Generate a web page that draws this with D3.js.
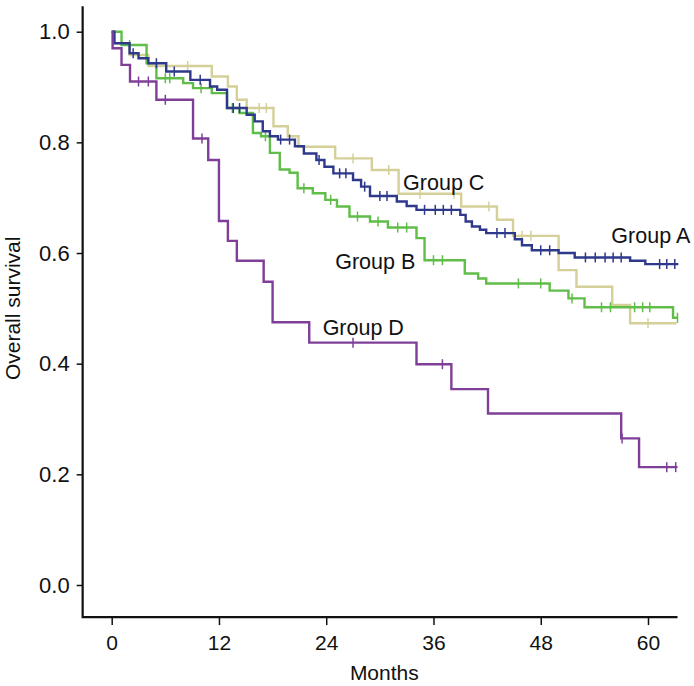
<!DOCTYPE html>
<html lang="en">
  <head>
    <meta charset="utf-8">
    <title>overall survival</title>
    <script type="text/javascript" src="https://d3js.org/d3.v7.min.js"></script>
    <style>
      body { margin: 0; background: #fff; }
      text { font-family: "Liberation Sans", Arial, sans-serif; fill: #111; }
      .xTicks .tick text { font-size: 21px; }
      .yTicks .tick text { font-size: 22px; }
      .axisTitle { font-size: 21px; }
      .groupLabel { font-size: 21.5px; }
    </style>
  </head>
  <body>

    <svg id="chart"></svg>

    <script type="text/javascript">

    // DATA (step times in months, survival after each step)

    const groups = ['Group A', 'Group B', 'Group C', 'Group D'];

    const aTimes = [0, 0.3, 2.0, 3.0, 4.1, 6.1, 8.8, 11.0, 11.8, 12.9, 15.1, 16.0, 16.9, 17.7, 18.6, 20.5, 21.5, 22.9, 23.8, 24.8, 27.0, 27.9, 28.9, 31.9, 33.0, 34.1, 39.0, 39.6, 40.3, 41.2, 41.9, 45.1, 45.9, 47.0, 50.0, 51.8, 58.0, 59.7, 63.4];
    const aSurv = [1, 0.979, 0.961, 0.952, 0.943, 0.928, 0.913, 0.901, 0.895, 0.862, 0.850, 0.838, 0.820, 0.811, 0.805, 0.793, 0.780, 0.768, 0.756, 0.744, 0.732, 0.720, 0.703, 0.693, 0.685, 0.678, 0.669, 0.657, 0.648, 0.642, 0.636, 0.625, 0.614, 0.605, 0.600, 0.592, 0.586, 0.580, 0.580];
    const aCens = [2.4, 5.0, 7.0, 9.9, 13.6, 14.3, 18.9, 19.9, 23.2, 25.5, 26.2, 28.3, 30.0, 30.8, 35.0, 36.2, 37.1, 38.0, 43.1, 44.0, 48.0, 49.0, 53.0, 54.1, 55.2, 56.1, 57.0, 61.3, 62.1, 63.0];

    const bTimes = [0, 1.1, 3.9, 5.0, 8.0, 9.1, 11.2, 12.9, 14.3, 15.8, 16.7, 17.7, 18.8, 19.9, 20.8, 22.5, 23.9, 25.2, 26.6, 28.9, 30.9, 34.1, 35.0, 39.5, 41.0, 41.9, 49.0, 51.1, 52.9, 62.8, 63.3];
    const bSurv = [1, 0.976, 0.943, 0.916, 0.907, 0.898, 0.889, 0.862, 0.853, 0.817, 0.811, 0.781, 0.751, 0.745, 0.717, 0.708, 0.696, 0.684, 0.666, 0.657, 0.646, 0.627, 0.587, 0.563, 0.554, 0.545, 0.532, 0.518, 0.502, 0.483, 0.483];
    const bCens = [2.0, 6.0, 6.5, 10.0, 13.5, 17.2, 21.5, 24.5, 27.5, 29.8, 32.0, 33.0, 36.0, 37.0, 45.5, 48.0, 51.5, 54.8, 55.8, 58.5, 59.4, 60.2, 63.3];

    const cTimes = [0, 0.3, 2.0, 4.1, 11.2, 13.0, 14.0, 15.1, 18.1, 19.7, 20.9, 25.0, 29.1, 32.1, 39.1, 43.1, 44.9, 50.0, 52.0, 56.0, 58.0, 63.2];
    const cSurv = [1, 0.979, 0.958, 0.938, 0.919, 0.901, 0.877, 0.862, 0.829, 0.811, 0.792, 0.771, 0.750, 0.707, 0.684, 0.660, 0.631, 0.569, 0.539, 0.506, 0.473, 0.473];
    const cCens = [8.5, 16.5, 17.3, 27.0, 31.0, 34.5, 38.3, 42.2, 45.9, 46.9, 60.0];

    const dTimes = [0, 0.1, 1.1, 2.05, 5.0, 9.1, 10.8, 12.0, 13.0, 14.0, 17.0, 18.0, 22.1, 34.1, 38.0, 42.1, 57.0, 59.0, 63.3];
    const dSurv = [1, 0.970, 0.940, 0.910, 0.877, 0.807, 0.768, 0.658, 0.622, 0.586, 0.548, 0.475, 0.438, 0.399, 0.354, 0.310, 0.265, 0.213, 0.213];
    const dCens = [3.0, 4.1, 6.0, 10.1, 27.0, 37.0, 57.1, 62.1, 63.1];

    const xTicks = [0, 12, 24, 36, 48, 60];
    const yTicks = [0, 0.2, 0.4, 0.6, 0.8, 1.0];


    // DIMENSIONS

    const width = 694;
    const height = 686;

    const svg = d3.select('#chart')
      .attr('width', width)
      .attr('height', height);

    const x = d3.scaleLinear().domain([0, 60]).range([111.7, 648]);
    const y = d3.scaleLinear().domain([0, 1]).range([585, 31.7]);

    const xMin = -3.25, xMax = 63.3;   // axis line extent (months)
    const yMin = -0.058, yMax = 1.046; // axis line extent (survival)


    // AXES

    const xAxis = svg.append('g')
      .attr('class', 'xTicks')
      .attr('transform', `translate(0, ${y(yMin)})`)
      .call(d3.axisBottom(x).tickValues(xTicks).tickSize(8).tickPadding(10).tickFormat(d3.format('d')));
    xAxis.select('.domain').remove();
    xAxis.selectAll('.tick line').attr('stroke', '#111').attr('stroke-width', 1.5);

    const yAxis = svg.append('g')
      .attr('class', 'yTicks')
      .attr('transform', `translate(${x(xMin)}, 0)`)
      .call(d3.axisLeft(y).tickValues(yTicks).tickSize(6).tickPadding(7).tickFormat(d3.format('.1f')));
    yAxis.select('.domain').remove();
    yAxis.selectAll('.tick line').attr('stroke', '#111').attr('stroke-width', 1.5);

    // L shaped frame
    svg.append('path')
      .attr('d', `M${x(xMin)},${y(yMax)} V${y(yMin)} H${x(xMax)}`)
      .attr('fill', 'none')
      .attr('stroke', '#111')
      .attr('stroke-width', 2.2);

    svg.append('text')
      .text('Months')
      .attr('x', x(30.5))
      .attr('y', 680)
      .attr('text-anchor', 'middle')
      .attr('class', 'axisTitle');

    svg.append('text')
      .text('Overall survival')
      .attr('transform', `translate(20, ${y(0.5)}) rotate(-90)`)
      .attr('text-anchor', 'middle')
      .attr('class', 'axisTitle');


    // CURVES

    const curves = [
      {name: 'Group C', times: cTimes, surv: cSurv, cens: cCens, color: '#d4d098'},
      {name: 'Group B', times: bTimes, surv: bSurv, cens: bCens, color: '#5fbd48'},
      {name: 'Group A', times: aTimes, surv: aSurv, cens: aCens, color: '#2e398b'},
      {name: 'Group D', times: dTimes, surv: dSurv, cens: dCens, color: '#7f3f98'}
    ];

    const stepLine = d3.line()
      .x(d => x(d[0]))
      .y(d => y(d[1]))
      .curve(d3.curveStepAfter);

    // survival value at time t (step function)
    function survAt(c, t) {
      let s = 1;
      c.times.forEach((tt, i) => { if (tt <= t) s = c.surv[i]; });
      return s;
    }

    curves.forEach(function(c) {
      const g = svg.append('g');

      g.append('path')
        .attr('d', stepLine(c.times.map((t, i) => [t, c.surv[i]])))
        .attr('fill', 'none')
        .attr('stroke', c.color)
        .attr('stroke-width', 2.4);

      g.selectAll('line')
        .data(c.cens)
        .join('line')
        .attr('x1', d => x(d))
        .attr('x2', d => x(d))
        .attr('y1', d => y(survAt(c, d)) - 5)
        .attr('y2', d => y(survAt(c, d)) + 5)
        .attr('stroke', c.color)
        .attr('stroke-width', 1.5);
    });


    // LABELS

    const labelText = ['Group C', 'Group A', 'Group B', 'Group D'];
    const labelMonth = [32.6, 55.9, 25.0, 23.6];
    const labelSurv = [0.714, 0.618, 0.572, 0.452];

    svg.append('g')
      .selectAll('text')
      .data(labelText)
      .join('text')
      .text(d => d)
      .attr('x', (d, i) => x(labelMonth[i]))
      .attr('y', (d, i) => y(labelSurv[i]))
      .attr('class', 'groupLabel');

    </script>
  </body>
</html>
